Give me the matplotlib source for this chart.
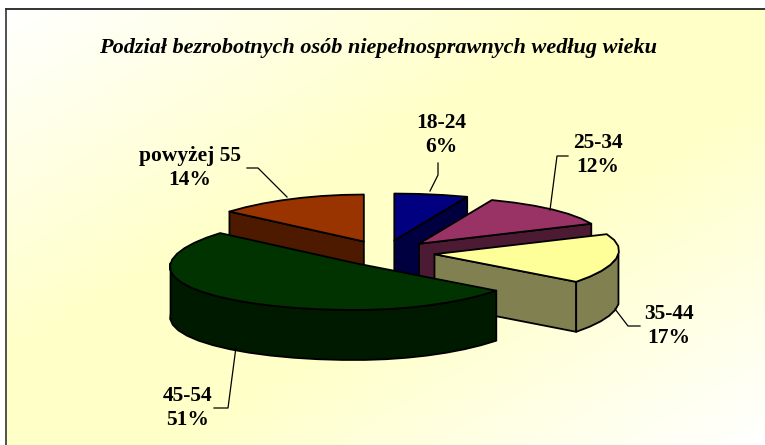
import numpy as np
import matplotlib
matplotlib.use('Agg')
import matplotlib.pyplot as plt
from matplotlib.patches import Polygon

categories = ['18-24', '25-34', '35-44', '45-54', 'powyżej 55']
values = [6, 12, 17, 51, 14]
top_colors = ['#000080', '#993366', '#FFFF99', '#003300', '#993300']
side_colors = ['#000040', '#4D1A33', '#808050', '#001A00', '#4D1A00']
# order the slices are painted, back to front
draw_order = [4, 0, 1, 2, 3]

title = 'Podział bezrobotnych osób niepełnosprawnych według wieku'

# pixel layout of the 3d pie
CX, CY = 385, 253
RX, RY = 184, 47
DEPTH = 50
EXPLODE = 0.27
SKEW = 15  # the old chart's projection pulls the back of the pie inwards

# label centre, then leader line, per category
label_pos = [(441, 135), (598, 155), (669, 326), (188, 408), (190, 168)]
leaders = [
    [(438, 163), (438, 175), (430, 191)],
    [(568, 156), (557, 156), (550, 210)],
    [(615, 309), (628, 326), (640, 326)],
    [(236, 347), (228, 408), (214, 408)],
    [(247, 168), (258, 168), (287, 197)],
]


def point(cx, cy, deg, rx=RX, ry=RY, skew=SKEW):
    """Screen position of an angle measured clockwise from 12 o'clock."""
    rad = np.radians(deg)
    x = cx + rx * np.sin(rad) + skew * np.abs(np.sin(rad)) * np.cos(rad)
    return x, cy - ry * np.cos(rad)


def arc(cx, cy, a, b, step=7.0):
    n = max(int(abs(b - a) / step), 1)
    xs, ys = point(cx, cy, np.linspace(a, b, n + 1))
    return list(zip(xs, ys))


def draw_slice(ax, start, end, top, side):
    mid = (start + end) / 2
    cx, cy = point(CX, CY, mid, RX * EXPLODE, RY * EXPLODE, skew=0)
    style = dict(facecolor=side, edgecolor='black', linewidth=1.3, joinstyle='round')
    # cut faces that look towards the viewer
    for ang, visible in ((start, np.sin(np.radians(start)) < -1e-6),
                         (end, np.sin(np.radians(end)) > 1e-6)):
        if visible:
            px, py = point(cx, cy, ang)
            face = [(cx, cy), (px, py), (px, py + DEPTH), (cx, cy + DEPTH)]
            ax.add_patch(Polygon(face, closed=True, **style))
    # outer rim, front half only
    a, b = max(start, 90), min(end, 270)
    if a < b:
        rim = arc(cx, cy, a, b)
        low = [(x, y + DEPTH) for x, y in rim[::-1]]
        ax.add_patch(Polygon(rim + low, closed=True, **style))
    outline = [(cx, cy)] + arc(cx, cy, start, end)
    ax.add_patch(Polygon(outline, closed=True, facecolor=top, edgecolor='black',
                         linewidth=1.3, joinstyle='round'))


fig = plt.figure(figsize=(7.65, 4.45), dpi=100, facecolor='white')
ax = fig.add_axes([0, 0, 1, 1])
ax.set_xlim(0, 765)
ax.set_ylim(445, 0)
ax.axis('off')

# background: white corners top-left and bottom-right, pale yellow across
u, v = np.meshgrid(np.linspace(0, 1, 300), np.linspace(0, 1, 180))
t = np.clip(1.25 * (1 - np.abs(u + v - 1)), 0, 1)
bg = np.ones((180, 300, 3))
bg[..., 2] = 1 - t * (1 - 0xC8 / 255)
ax.imshow(bg, extent=(6, 765, 445, 9), aspect='auto', interpolation='bilinear', zorder=0)
ax.set_xlim(0, 765)
ax.set_ylim(445, 0)
ax.plot([6, 6], [445, 9], color='#222222', lw=1.1, zorder=1)
ax.plot([6, 765], [9, 9], color='#333333', lw=1.4, zorder=1)

shares = np.array(values) / sum(values) * 360
starts = np.concatenate(([0], np.cumsum(shares)[:-1]))
for i in draw_order:
    draw_slice(ax, starts[i], starts[i] + shares[i], top_colors[i], side_colors[i])

for line in leaders:
    xs, ys = zip(*line)
    ax.plot(xs, ys, color='black', lw=0.9, zorder=5)

for cat, val, (x, y) in zip(categories, values, label_pos):
    ax.text(x, y, '%s\n%d%%' % (cat, val), ha='center', va='center', fontsize=15.5,
            family='Liberation Serif', fontweight='bold', linespacing=1.3, zorder=6,
            color='black')

ax.text(378, 48, title, ha='center', va='center', fontsize=16, family='Liberation Serif',
        fontweight='bold', fontstyle='italic', color='black')

fig.savefig('out.png', dpi=100)
